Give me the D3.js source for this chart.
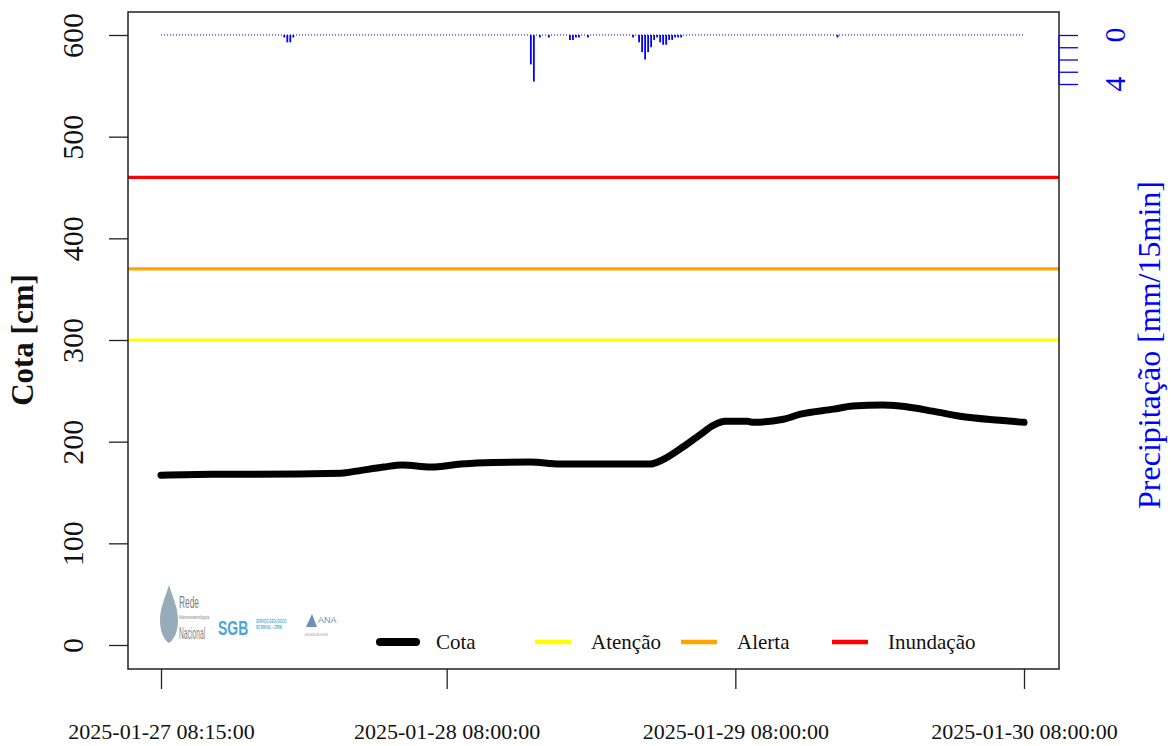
<!DOCTYPE html>
<html>
<head>
<meta charset="utf-8">
<script src="https://cdn.jsdelivr.net/npm/d3@7"></script>
<style>
  body { margin: 0; background: #fff; }
  text { font-family: "Liberation Serif", "Times New Roman", serif; }
</style>
</head>
<body>
<div id="chart"></div>
<script>
// cota (cm)
var cotaTime = ["2025-01-27 08:15", "2025-01-27 12:30", "2025-01-27 15:15", "2025-01-27 23:15",
  "2025-01-28 00:30", "2025-01-28 02:45", "2025-01-28 04:20", "2025-01-28 06:40", "2025-01-28 09:10",
  "2025-01-28 10:30", "2025-01-28 14:55", "2025-01-28 17:25", "2025-01-28 23:15", "2025-01-29 00:55",
  "2025-01-29 01:55", "2025-01-29 03:40", "2025-01-29 05:05", "2025-01-29 06:10", "2025-01-29 07:10",
  "2025-01-29 09:00", "2025-01-29 09:30", "2025-01-29 12:00", "2025-01-29 13:25", "2025-01-29 16:10",
  "2025-01-29 17:45", "2025-01-29 20:15", "2025-01-29 21:40", "2025-01-30 00:25", "2025-01-30 02:40",
  "2025-01-30 06:00", "2025-01-30 08:00"];
var cotaValue = [167, 168, 168, 169, 171, 175, 177, 175, 178,
  179, 180, 178, 178, 178,
  182, 195, 207, 216, 220,
  220, 219, 222, 227, 232,
  235, 236, 235, 230, 225,
  221, 219];

// chuva (mm/15min), only the non-zero readings
var chuvaTime = ["2025-01-27 18:30", "2025-01-27 18:45", "2025-01-27 19:00", "2025-01-27 19:15",
  "2025-01-28 15:00", "2025-01-28 15:15", "2025-01-28 15:45", "2025-01-28 16:30", "2025-01-28 18:15",
  "2025-01-28 18:30", "2025-01-28 18:45", "2025-01-28 19:00", "2025-01-28 19:45", "2025-01-28 23:30",
  "2025-01-29 00:00", "2025-01-29 00:15", "2025-01-29 00:30", "2025-01-29 00:45", "2025-01-29 01:00",
  "2025-01-29 01:15", "2025-01-29 01:30", "2025-01-29 01:45", "2025-01-29 02:00", "2025-01-29 02:15",
  "2025-01-29 02:30", "2025-01-29 02:45", "2025-01-29 03:00", "2025-01-29 03:15", "2025-01-29 03:30",
  "2025-01-29 16:30"];
var chuvaValue = [0.2, 0.6, 0.6, 0.2,
  2.4, 3.8, 0.2, 0.2, 0.4,
  0.4, 0.2, 0.2, 0.2, 0.2,
  0.6, 1.4, 2.0, 1.4, 1.0,
  0.4, 0.2, 0.6, 0.8, 0.8,
  0.4, 0.4, 0.2, 0.2, 0.2,
  0.2];

// cotas de referencia
var limiarNome = ["Atenção", "Alerta", "Inundação"];
var limiarValor = [300, 370, 460];

// axes
var serieInicio = "2025-01-27 08:15";
var serieFim = "2025-01-30 08:00";
var xTickTime = ["2025-01-27 08:15", "2025-01-28 08:00", "2025-01-29 08:00", "2025-01-30 08:00"];
var xTickLabel = ["2025-01-27 08:15:00", "2025-01-28 08:00:00", "2025-01-29 08:00:00", "2025-01-30 08:00:00"];
var yTicks = [0, 100, 200, 300, 400, 500, 600];
var chuvaTicks = [0, 1, 2, 3, 4];
var chuvaTickLabel = [0, 4];

var limiarCor = ["#ffff00", "#ffa500", "#ff0000"];
var chuvaCor = "#0000ff";
var serif = "Liberation Serif";

// set the dimensions and margins of the graph
var margin = {top: 12, right: 114, bottom: 77, left: 128},
    width = 1173 - margin.left - margin.right,
    height = 746 - margin.top - margin.bottom;

var svg = d3.select("#chart")
  .append("svg")
    .attr("width", width + margin.left + margin.right)
    .attr("height", height + margin.top + margin.bottom)
  .append("g")
    .attr("transform", "translate(" + margin.left + "," + margin.top + ")");

var parse = d3.timeParse("%Y-%m-%d %H:%M");

// X scale (R pads 4% each side)
var x = d3.scaleTime()
  .domain([parse(serieInicio), parse(serieFim)])
  .range([33, 896]);

// Y scale for cota
var y = d3.scaleLinear()
  .domain([0, 600])
  .range([633, 23]);

// secondary Y scale for precipitation (reversed, hanging from top)
var y2 = d3.scaleLinear()
  .domain([0, 4])
  .range([23, 72]);

// threshold lines
limiarValor.forEach(function(v, i) {
  svg.append("line")
    .attr("x1", 0).attr("x2", width)
    .attr("y1", y(v)).attr("y2", y(v))
    .attr("stroke", limiarCor[i])
    .attr("stroke-width", 3.2);
});

// precipitation: dotted zero line + bars
svg.append("line")
  .attr("x1", x(parse(serieInicio))).attr("x2", x(parse(serieFim)))
  .attr("y1", y2(0)).attr("y2", y2(0))
  .attr("stroke", chuvaCor)
  .attr("stroke-width", 1)
  .attr("stroke-dasharray", "1,2");

svg.selectAll(".chuva")
  .data(chuvaTime)
  .enter()
  .append("line")
    .attr("class", "chuva")
    .attr("x1", function(d) { return x(parse(d)); })
    .attr("x2", function(d) { return x(parse(d)); })
    .attr("y1", y2(0))
    .attr("y2", function(d, i) { return y2(chuvaValue[i]); })
    .attr("stroke", chuvaCor)
    .attr("stroke-width", 1.8);

// cota line
var cota = cotaTime.map(function(t, i) { return {t: parse(t), v: cotaValue[i]}; });
svg.append("path")
  .datum(cota)
  .attr("fill", "none")
  .attr("stroke", "#000")
  .attr("stroke-width", 7)
  .attr("stroke-linejoin", "round")
  .attr("stroke-linecap", "round")
  .attr("d", d3.line()
    .curve(d3.curveMonotoneX)
    .x(function(d) { return x(d.t); })
    .y(function(d) { return y(d.v); }));

// plot box
svg.append("rect")
  .attr("x", 0).attr("y", 0)
  .attr("width", width).attr("height", height)
  .attr("fill", "none")
  .attr("stroke", "#222")
  .attr("stroke-width", 1.5);

// left axis
var yAxis = svg.append("g")
  .call(d3.axisLeft(y).tickValues(yTicks).tickSize(19).tickFormat(d3.format("d")))
  .attr("font-family", serif)
  .attr("font-size", 30);
yAxis.select(".domain").remove();
yAxis.selectAll("line").attr("stroke", "#222").attr("stroke-width", 1.3);
yAxis.selectAll("text")
  .attr("x", 0).attr("dy", 0).attr("y", 0)
  .attr("transform", "translate(-45,0) rotate(-90)")
  .attr("text-anchor", "middle")
  .attr("font-family", serif)
  .attr("fill", "#111");

// bottom axis
var xAxis = svg.append("g")
  .attr("transform", "translate(0," + height + ")")
  .call(d3.axisBottom(x)
    .tickValues(xTickTime.map(parse))
    .tickSize(20)
    .tickFormat(function(d, i) { return xTickLabel[i]; }))
  .attr("font-family", serif)
  .attr("font-size", 22);
xAxis.select(".domain").remove();
xAxis.selectAll("line").attr("stroke", "#222").attr("stroke-width", 1.3);
xAxis.selectAll("text")
  .attr("y", 70).attr("dy", 0)
  .attr("fill", "#111");

// right axis (precipitation)
var rAxis = svg.append("g")
  .attr("transform", "translate(" + width + ",0)")
  .call(d3.axisRight(y2).tickValues(chuvaTicks).tickSize(19).tickFormat(""));
rAxis.selectAll("line").attr("stroke", chuvaCor).attr("stroke-width", 1.3);
rAxis.select(".domain").attr("stroke", chuvaCor).attr("d", "M0," + y2(0) + "V" + y2(4));
chuvaTickLabel.forEach(function(v) {
  svg.append("text")
    .attr("transform", "translate(" + (width + 66) + "," + y2(v) + ") rotate(-90)")
    .attr("text-anchor", "middle")
    .attr("fill", chuvaCor)
    .style("font-size", "30px")
    .text(v);
});

// axis titles
svg.append("text")
  .attr("transform", "translate(-95," + 328 + ") rotate(-90)")
  .attr("text-anchor", "middle")
  .attr("font-weight", "bold")
  .style("font-size", "31px")
  .attr("fill", "#111")
  .text("Cota [cm]");

svg.append("text")
  .attr("transform", "translate(" + (width + 101) + "," + 333 + ") rotate(-90)")
  .attr("text-anchor", "middle")
  .attr("fill", chuvaCor)
  .style("font-size", "32px")
  .text("Precipitação [mm/15min]");

// legend
var legNome = ["Cota"].concat(limiarNome);
var legCor = ["#000"].concat(limiarCor);
var legX = [252, 407, 553, 704];
legNome.forEach(function(n, i) {
  svg.append("line")
    .attr("x1", legX[i]).attr("x2", legX[i] + 36)
    .attr("y1", 630).attr("y2", 630)
    .attr("stroke", legCor[i])
    .attr("stroke-width", i == 0 ? 8 : 4.5)
    .attr("stroke-linecap", i == 0 ? "round" : "butt");
  svg.append("text")
    .attr("x", legX[i] + 56)
    .attr("y", 637)
    .style("font-size", "21px")
    .attr("fill", "#111")
    .text(n);
});

// logo (rough stand-in for the network logos)
var logo = svg.append("g")
  .attr("transform", "translate(29,572)")
  .attr("opacity", 0.8);
var logoText = function(tx, ty, size, sx, cor, bold, txt) {
  logo.append("text")
    .attr("transform", "translate(" + tx + "," + ty + ") scale(" + sx + ",1)")
    .style("font-family", "'Liberation Sans', sans-serif")
    .style("font-size", size + "px")
    .attr("font-weight", bold ? "bold" : "normal")
    .attr("fill", cor)
    .text(txt);
};
logo.append("path")
  .attr("d", "M12,1 C8,14 3,24 3,36 C3,48 7,56 12,59 C17,56 21,48 21,36 C21,24 16,14 12,1 Z")
  .attr("fill", "#7d98a8");
logoText(22, 24, 17, 0.49, "#56616a", false, "Rede");
logoText(22, 35, 5, 0.7, "#56616a", false, "Hidrometeorológica");
logoText(22, 55, 16, 0.42, "#56616a", false, "Nacional");
logoText(61, 51, 20, 0.7, "#1f8fd0", true, "SGB");
logoText(99, 39, 4.5, 0.62, "#1f8fd0", true, "SERVIÇO GEOLÓGICO");
logoText(99, 45, 4.5, 0.62, "#1f8fd0", true, "DO BRASIL - CPRM");
logo.append("path").attr("d", "M149,43 L155,30 L160,43 Z").attr("fill", "#4a73a8");
logoText(161, 39, 9, 1, "#4a73a8", false, "ANA");
logoText(148, 52, 3, 0.5, "#777", false, "AGÊNCIA NACIONAL DE ÁGUAS");
</script>
</body>
</html>
